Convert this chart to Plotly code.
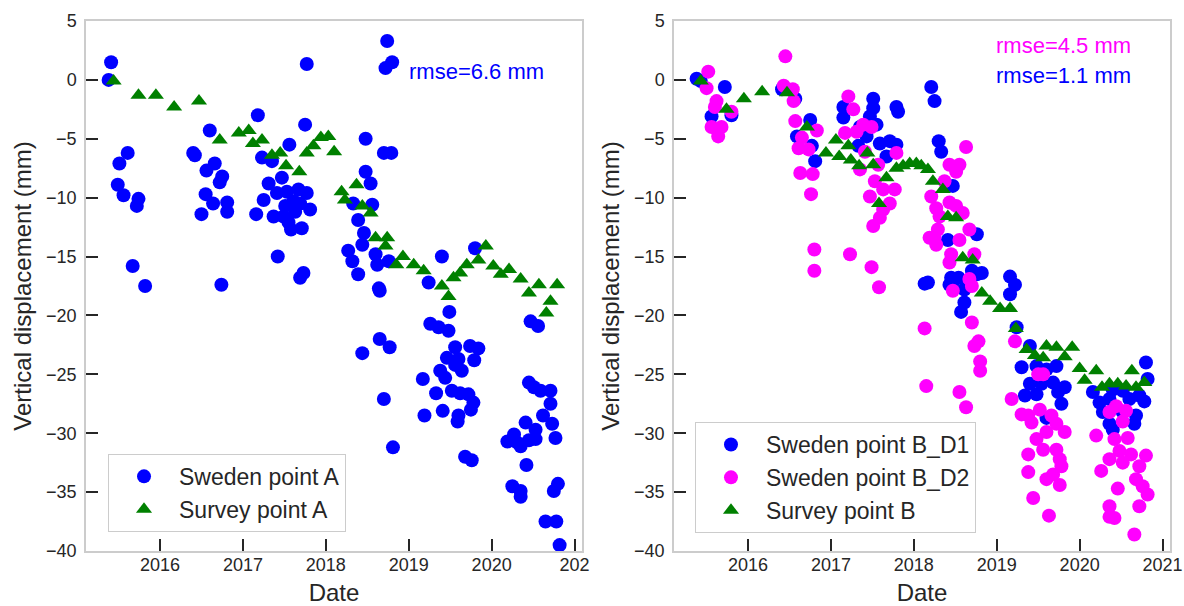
import plotly.graph_objects as go

# ---- Point A (left panel) ----
sweden_a_date = [
    2015.38, 2015.41, 2015.49, 2015.51, 2015.56, 2015.61, 2015.67, 2015.72, 2015.74, 2015.82,
    2016.40, 2016.42, 2016.50, 2016.55, 2016.56, 2016.60, 2016.64, 2016.66, 2016.72, 2016.74,
    2016.75, 2016.81, 2016.81, 2017.16, 2017.18, 2017.23, 2017.25, 2017.31, 2017.35, 2017.37,
    2017.41, 2017.42, 2017.47, 2017.49, 2017.51, 2017.53, 2017.55, 2017.56, 2017.58, 2017.61,
    2017.63, 2017.67, 2017.69, 2017.69, 2017.71, 2017.73, 2017.75, 2017.77, 2017.77, 2017.81,
    2018.27, 2018.32, 2018.33, 2018.39, 2018.39, 2018.44, 2018.44, 2018.46, 2018.48, 2018.48,
    2018.54, 2018.56, 2018.60, 2018.62, 2018.64, 2018.65, 2018.65, 2018.70, 2018.70, 2018.72,
    2018.74, 2018.76, 2018.77, 2018.79, 2018.80, 2018.81, 2019.17, 2019.19, 2019.24, 2019.26,
    2019.33, 2019.36, 2019.38, 2019.40, 2019.41, 2019.44, 2019.46, 2019.48, 2019.49, 2019.52,
    2019.56, 2019.56, 2019.59, 2019.60, 2019.60, 2019.62, 2019.64, 2019.68, 2019.72, 2019.74,
    2019.75, 2019.76, 2019.78, 2019.79, 2019.80, 2019.84, 2020.19, 2020.25, 2020.27, 2020.31,
    2020.35, 2020.35, 2020.35, 2020.41, 2020.42, 2020.45, 2020.45, 2020.47, 2020.51, 2020.53,
    2020.53, 2020.56, 2020.59, 2020.62, 2020.65, 2020.71, 2020.71, 2020.73, 2020.75, 2020.77,
    2020.78, 2020.80, 2020.82,
]
sweden_a_disp = [
    0.0, 1.5, -8.9, -7.1, -9.8, -6.2, -15.8, -10.7, -10.1, -17.5,
    -6.2, -6.4, -11.4, -9.7, -7.7, -4.3, -10.5, -7.1, -8.7, -17.4,
    -8.2, -10.4, -11.2, -11.4, -3.0, -6.6, -10.2, -8.8, -6.9, -11.6,
    -9.6, -15.0, -8.3, -11.6, -10.7, -9.5, -12.1, -5.5, -12.7, -10.3,
    -11.2, -9.3, -10.5, -16.8, -12.6, -16.4, -3.8, -9.6, 1.35, -11.0,
    -14.5, -15.4, -10.5, -11.9, -16.5, -14.0, -23.2, -13.0, -5.0, -7.8,
    -8.8, -10.6, -14.8, -15.7, -17.7, -17.9, -22.0, -6.2, -27.1, 1.0,
    3.3, -15.4, -22.7, -6.2, 1.5, -31.2, -25.4, -28.5, -17.2, -20.7,
    -26.6, -21.0, -24.7, -15.0, -28.1, -25.3, -23.6, -21.3, -19.7, -26.4,
    -22.7, -24.2, -29.0, -23.7, -28.5, -26.6, -24.7, -32.0, -26.7, -22.6,
    -28.0, -32.3, -27.4, -23.8, -14.3, -22.8, -30.7, -34.5, -30.1, -30.8,
    -31.1, -34.9, -35.4, -29.1, -32.7, -25.7, -30.6, -20.5, -26.1, -29.7,
    -30.5, -20.9, -26.4, -28.5, -37.5, -26.4, -27.5, -29.2, -34.9, -30.4,
    -37.5, -34.3, -39.5,
]

survey_a_date = [
    2015.44, 2015.74, 2015.95, 2016.17, 2016.47, 2016.72, 2016.95, 2017.07, 2017.12, 2017.23,
    2017.35, 2017.45, 2017.52, 2017.68, 2017.77, 2017.85, 2017.94, 2018.03, 2018.10, 2018.19,
    2018.23, 2018.37, 2018.44, 2018.54, 2018.60, 2018.72, 2018.74, 2018.85, 2018.93, 2019.06,
    2019.18, 2019.40, 2019.48, 2019.54, 2019.62, 2019.70, 2019.84, 2019.93, 2020.02, 2020.11,
    2020.21, 2020.35, 2020.45, 2020.57, 2020.66, 2020.71, 2020.79,
]
survey_a_disp = [
    -0.1, -1.3, -1.3, -2.3, -1.8, -5.1, -4.5, -4.3, -5.4, -5.1,
    -6.4, -6.2, -7.3, -7.8, -6.2, -5.6, -4.9, -4.8, -6.1, -9.5,
    -10.2, -8.9, -10.7, -11.3, -13.4, -14.1, -13.4, -15.7, -15.0, -15.7,
    -16.2, -17.5, -18.4, -16.8, -16.4, -15.7, -15.3, -14.1, -15.8, -16.5,
    -16.1, -16.9, -18.1, -17.4, -19.8, -18.8, -17.4,
]

# ---- Point B (right panel) ----
sweden_b_d1_date = [
    2015.38, 2015.43, 2015.56, 2015.72, 2015.80, 2016.41, 2016.57, 2016.59, 2016.75, 2016.77,
    2016.81, 2017.15, 2017.15, 2017.33, 2017.35, 2017.43, 2017.47, 2017.51, 2017.51, 2017.55,
    2017.59, 2017.67, 2017.71, 2017.79, 2017.79, 2017.81, 2018.13, 2018.17, 2018.21, 2018.25,
    2018.30, 2018.33, 2018.41, 2018.43, 2018.45, 2018.47, 2018.47, 2018.54, 2018.57, 2018.61,
    2018.61, 2018.70, 2018.76, 2018.76, 2018.82, 2019.16, 2019.16, 2019.22, 2019.24, 2019.30,
    2019.34, 2019.40, 2019.40, 2019.48, 2019.48, 2019.54, 2019.60, 2019.60, 2019.68, 2019.72,
    2019.74, 2019.78, 2019.82, 2020.16, 2020.24, 2020.28, 2020.36, 2020.36, 2020.40, 2020.40,
    2020.52, 2020.52, 2020.60, 2020.66, 2020.68, 2020.72, 2020.78, 2020.80, 2020.82,
]
sweden_b_d1_disp = [
    0.1, -0.1, -3.1, -0.6, -3.0, -0.8, -1.6, -4.8, -3.4, -5.6,
    -6.9, -2.3, -3.2, -5.6, -4.0, -4.8, -3.1, -1.6, -2.4, -3.8,
    -5.4, -6.5, -5.2, -5.5, -2.3, -2.7, -17.3, -17.2, -0.6, -1.8,
    -5.2, -6.1, -13.6, -17.4, -16.8, -9.0, -17.2, -16.8, -19.7, -17.8,
    -18.9, -16.2, -13.1, -16.5, -16.4, -16.7, -18.2, -17.4, -21.0, -24.4,
    -26.8, -22.6, -25.8, -24.3, -26.7, -25.8, -24.6, -28.7, -25.7, -24.3,
    -26.5, -27.5, -26.1, -26.5, -27.4, -28.2, -27.1, -29.2, -26.3, -29.7,
    -26.4, -28.2, -27.1, -29.2, -28.5, -26.8, -27.3, -24.0, -25.4,
]

sweden_b_d2_date = [
    2015.50, 2015.52, 2015.56, 2015.60, 2015.62, 2015.64, 2015.68, 2015.80, 2016.43, 2016.45,
    2016.54, 2016.55, 2016.57, 2016.61, 2016.63, 2016.65, 2016.73, 2016.76, 2016.78, 2016.80,
    2016.80, 2016.83, 2017.17, 2017.21, 2017.23, 2017.27, 2017.31, 2017.35, 2017.39, 2017.41,
    2017.47, 2017.49, 2017.49, 2017.51, 2017.53, 2017.57, 2017.58, 2017.59, 2017.63, 2017.63,
    2017.71, 2017.77, 2017.79, 2018.13, 2018.15, 2018.19, 2018.21, 2018.25, 2018.27, 2018.27,
    2018.29, 2018.31, 2018.37, 2018.43, 2018.43, 2018.43, 2018.45, 2018.47, 2018.51, 2018.51,
    2018.55, 2018.55, 2018.55, 2018.59, 2018.63, 2018.63, 2018.67, 2018.67, 2018.70, 2018.70,
    2018.73, 2018.73, 2018.78, 2018.80, 2018.80, 2019.18, 2019.22, 2019.30, 2019.38, 2019.38,
    2019.38, 2019.42, 2019.44, 2019.48, 2019.50, 2019.52, 2019.56, 2019.56, 2019.60, 2019.60,
    2019.63, 2019.66, 2019.68, 2019.72, 2019.72, 2019.76, 2019.76, 2019.78, 2019.82, 2020.20,
    2020.26, 2020.36, 2020.36, 2020.36, 2020.36, 2020.42, 2020.42, 2020.44, 2020.46, 2020.48,
    2020.52, 2020.52, 2020.56, 2020.58, 2020.62, 2020.66, 2020.68, 2020.72, 2020.72, 2020.76,
    2020.80, 2020.82,
]
sweden_b_d2_disp = [
    -0.7, 0.7, -4.0, -2.3, -1.8, -4.8, -4.0, -2.7, -0.5, 2.0,
    -0.8, -1.8, -3.5, -5.8, -7.9, -4.9, -5.9, -9.7, -8.0, -14.4,
    -16.2, -4.3, -4.5, -1.4, -14.8, -2.5, -4.4, -7.6, -3.8, -6.1,
    -9.9, -4.0, -15.9, -12.4, -8.6, -7.2, -17.6, -11.7, -9.3, -11.0,
    -10.5, -9.3, -6.2, -21.1, -26.0, -13.4, -9.9, -13.4, -10.9, -14.0,
    -12.7, -11.6, -8.6, -7.2, -10.4, -15.5, -14.8, -17.9, -7.8, -10.7,
    -7.2, -13.6, -26.5, -11.3, -5.7, -27.8, -12.7, -16.9, -17.5, -20.6,
    -14.8, -22.6, -22.2, -23.9, -24.7, -27.1, -22.2, -28.4, -28.5, -31.8,
    -33.3, -29.1, -35.5, -30.5, -25.0, -28.0, -25.0, -31.4, -29.9, -33.9,
    -37.0, -28.5, -33.5, -29.2, -31.4, -32.2, -34.4, -32.8, -29.9, -30.2,
    -33.2, -28.2, -32.2, -36.2, -37.1, -30.5, -37.2, -27.7, -34.7, -31.5,
    -29.0, -32.5, -28.1, -30.4, -31.8, -38.6, -33.9, -32.8, -36.2, -34.5,
    -31.9, -35.2,
]

survey_b_date = [
    2015.43, 2015.74, 2015.95, 2016.17, 2016.47, 2016.71, 2016.94, 2017.06, 2017.10, 2017.21,
    2017.24, 2017.34, 2017.44, 2017.51, 2017.58, 2017.67, 2017.79, 2017.87, 2017.95, 2018.03,
    2018.09, 2018.17, 2018.23, 2018.35, 2018.41, 2018.51, 2018.59, 2018.71, 2018.82, 2018.92,
    2019.04, 2019.16, 2019.23, 2019.36, 2019.46, 2019.56, 2019.60, 2019.72, 2019.82, 2019.91,
    2020.00, 2020.06, 2020.20, 2020.27, 2020.36, 2020.46, 2020.56, 2020.63, 2020.68, 2020.78,
]
survey_b_disp = [
    -0.1, -2.5, -1.6, -1.0, -1.1, -4.0, -6.2, -5.1, -6.5, -5.6,
    -6.8, -7.3, -6.2, -7.2, -10.5, -8.3, -7.5, -7.3, -7.1, -7.1,
    -7.3, -7.6, -8.6, -9.3, -11.6, -11.7, -15.1, -15.3, -18.1, -18.8,
    -19.4, -19.4, -21.1, -22.9, -23.4, -23.6, -22.6, -22.7, -23.5, -22.7,
    -24.5, -25.5, -24.7, -26.1, -25.8, -25.8, -26.0, -24.7, -26.1, -25.7,
]

year_ticks = [2016, 2017, 2018, 2019, 2020, 2021]
left_year_labels = ["2016", "2017", "2018", "2019", "2020", "202"]
right_year_labels = ["2016", "2017", "2018", "2019", "2020", "2021"]
disp_ticks = [5, 0, -5, -10, -15, -20, -25, -30, -35, -40]

FONT = "Liberation Sans, Arial, sans-serif"
TEXT = "#262626"

fig = go.Figure()


def dots(x, y, name, color, xa, ya, legend, group):
    return go.Scatter(
        x=x, y=y, mode="markers", name=name, xaxis=xa, yaxis=ya,
        legend=legend, legendgroup=group,
        marker=dict(symbol="circle", size=14, color=color, line=dict(width=0)),
    )


def triangles(x, y, name, xa, ya, legend, group):
    return go.Scatter(
        x=x, y=y, mode="markers", name=name, xaxis=xa, yaxis=ya,
        legend=legend, legendgroup=group,
        marker=dict(symbol="triangle-up", size=14, color="green", line=dict(width=0)),
    )


fig.add_trace(dots(sweden_a_date, sweden_a_disp, "Sweden point A", "blue", "x", "y", "legend", "a1"))
fig.add_trace(triangles(survey_a_date, survey_a_disp, "Survey point A", "x", "y", "legend", "a2"))
fig.add_trace(dots(sweden_b_d1_date, sweden_b_d1_disp, "Sweden point B_D1", "blue", "x2", "y2", "legend2", "b1"))
fig.add_trace(dots(sweden_b_d2_date, sweden_b_d2_disp, "Sweden point B_D2", "magenta", "x2", "y2", "legend2", "b2"))
fig.add_trace(triangles(survey_b_date, survey_b_disp, "Survey point B", "x2", "y2", "legend2", "b3"))

axis_common = dict(
    showline=True, linecolor="#cccccc", linewidth=1.5, mirror=True,
    ticks="inside", ticklen=12, tickwidth=1.5, tickcolor=TEXT,
    tickfont=dict(family=FONT, size=18, color=TEXT),
    showgrid=False, zeroline=False, automargin=False,
)

x_range = [2015.107, 2021.09]
y_range = [-40, 5]

xaxis_style = dict(
    axis_common, range=x_range, tickmode="array", tickvals=year_ticks,
    ticklabelstandoff=-3,
    title=dict(text="Date", font=dict(family=FONT, size=24, color=TEXT), standoff=12),
)
yaxis_style = dict(
    axis_common, range=y_range, tickmode="array", tickvals=disp_ticks,
    ticklabelstandoff=4,
    title=dict(text="Vertical displacement (mm)", font=dict(family=FONT, size=24, color=TEXT), standoff=8),
)

legend_style = dict(
    xanchor="left", yanchor="bottom",
    bgcolor="rgba(255,255,255,0.8)", bordercolor="#cccccc", borderwidth=1,
    font=dict(family=FONT, size=23, color=TEXT),
    itemwidth=60, traceorder="grouped", tracegroupgap=0,
)

rmse_font = 22
fig.update_layout(
    width=1184, height=606,
    margin=dict(l=86, r=14, t=21, b=55),
    paper_bgcolor="white", plot_bgcolor="white",
    font=dict(family=FONT, color=TEXT),
    xaxis=dict(xaxis_style, domain=[0, 0.45756], ticktext=left_year_labels),
    yaxis=dict(yaxis_style, domain=[0, 1]),
    xaxis2=dict(xaxis_style, domain=[0.54244, 1], ticktext=right_year_labels, anchor="y2"),
    yaxis2=dict(yaxis_style, domain=[0, 1], anchor="x2"),
    legend=dict(legend_style, x=0.0203, y=0.036),
    legend2=dict(legend_style, x=0.5618, y=0.034),
    annotations=[
        dict(text="rmse=6.6 mm", xref="x domain", yref="y domain", x=0.649, y=0.904,
             xanchor="left", yanchor="middle", showarrow=False, borderpad=0,
             font=dict(family=FONT, size=rmse_font, color="blue")),
        dict(text="rmse=4.5 mm", xref="x2 domain", yref="y2 domain", x=0.647, y=0.953,
             xanchor="left", yanchor="middle", showarrow=False, borderpad=0,
             font=dict(family=FONT, size=rmse_font, color="magenta")),
        dict(text="rmse=1.1 mm", xref="x2 domain", yref="y2 domain", x=0.647, y=0.898,
             xanchor="left", yanchor="middle", showarrow=False, borderpad=0,
             font=dict(family=FONT, size=rmse_font, color="blue")),
    ],
)

fig.write_html("out.html")
